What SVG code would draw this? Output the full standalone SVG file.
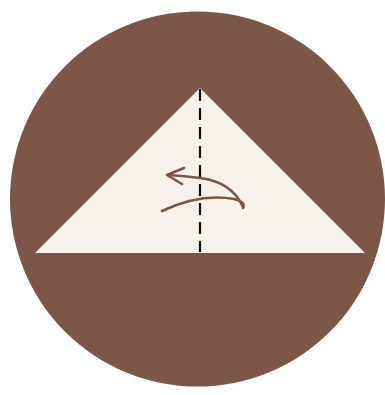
<svg xmlns="http://www.w3.org/2000/svg" width="385" height="395" viewBox="0 0 385 395">
<style>
.ink{fill:none;stroke:#7a5646;stroke-width:2.6;stroke-linecap:round;stroke-linejoin:round}
.fold{fill:none;stroke:#111;stroke-width:2.2;stroke-dasharray:12 7}
</style>
<rect width="385" height="395" fill="#ffffff"/>
<circle cx="197.5" cy="199" r="187.5" fill="#7c5646"/>
<g id="paper">
<polygon points="200,88 35,253 365,253" fill="#f6f1eb"/>
</g>
<g id="fold-line">
<line class="fold" x1="200" y1="89" x2="200" y2="252"/>
</g>
<g id="arrow">
<path class="ink" d="M162,211 Q200,193 234,199 Q246,202 243,208"/>
<path class="ink" d="M243,207 Q232,182 200,178 Q185,176 168,175"/>
<path class="ink" d="M184,168 L167,175 L182,184"/>
</g>
</svg>
